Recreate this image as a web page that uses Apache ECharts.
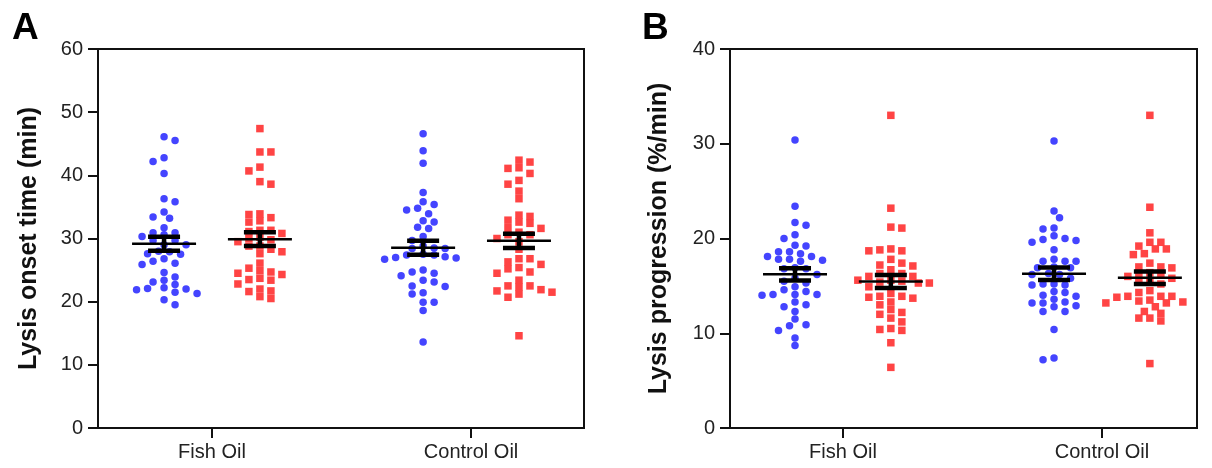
<!DOCTYPE html>
<html><head><meta charset="utf-8">
<script src="https://cdn.jsdelivr.net/npm/echarts@6/dist/echarts.min.js"></script>
<style>html,body{margin:0;padding:0;background:#fff}#c{width:1212px;height:468px}</style>
</head><body><div id="c"></div>
<script>
// ---- data ----
const categories = ['Fish Oil', 'Control Oil'];
const yTicksA = [0, 10, 20, 30, 40, 50, 60];
const yTicksB = [0, 10, 20, 30, 40];

// Panel A: Lysis onset time (min)
const onsetFishBlue = [46.1,45.5,42.8,42.2,40.3,36.3,35.8,34.2,33.4,33.2,31.7,30.6,30.9,30.9,30.3,29.7,29.7,29.0,29.0,27.9,28.0,27.6,27.5,26.8,26.4,26.1,25.9,24.6,23.9,23.4,23.1,22.7,21.9,22.2,22.1,22.0,21.5,21.3,20.3,19.5];
const onsetFishRed = [47.4,43.7,43.7,41.3,40.7,39.0,38.6,33.9,33.8,33.3,32.8,32.6,31.3,31.3,31.1,30.8,30.2,30.0,29.8,29.5,28.8,28.8,28.3,27.9,27.6,26.1,25.3,24.9,24.7,24.5,24.3,23.7,23.5,23.4,22.8,22.0,21.7,21.6,20.8,20.5];
const onsetCtrlBlue = [46.6,43.9,41.9,37.3,35.8,35.4,34.8,34.5,33.9,32.8,32.6,31.8,31.6,30.3,29.7,28.8,28.5,28.4,28.4,27.5,27.4,27.4,27.1,27.0,26.9,26.7,25.0,24.7,24.5,24.1,23.4,23.1,22.5,22.4,21.4,21.2,19.9,19.9,18.6,13.6];
const onsetCtrlRed = [42.4,42.1,41.2,41.1,40.3,39.2,38.6,37.5,36.3,33.7,33.5,32.9,32.6,32.4,31.7,31.6,31.0,30.6,30.6,30.0,29.5,28.3,26.8,26.8,26.3,25.9,25.4,25.2,24.7,24.5,23.4,22.5,22.5,22.3,21.9,21.7,21.5,21.2,20.7,14.6];

// Panel B: Lysis progression (%/min)
const progFishBlue = [30.4,23.4,21.7,21.4,20.4,20.0,19.3,19.2,18.6,18.6,18.4,18.1,18.1,17.8,17.8,17.7,17.6,16.9,16.8,16.8,16.2,15.8,15.5,15.3,14.9,14.6,14.4,14.1,14.1,14.1,14.0,13.3,13.0,12.8,12.3,11.5,10.9,10.8,10.3,9.5,8.7];
const progFishRed = [33.0,23.2,21.2,21.1,18.9,18.8,18.7,18.7,17.8,17.4,17.2,17.1,16.7,16.3,16.3,16.0,16.0,15.6,15.6,15.5,15.4,15.3,15.3,14.9,14.2,13.9,13.9,13.8,13.7,13.3,13.0,12.5,12.2,12.0,11.6,11.2,10.5,10.4,10.3,9.0,6.4];
const progCtrlBlue = [30.3,22.9,22.2,21.1,21.0,20.3,20.0,19.9,19.8,19.6,18.8,17.8,17.6,17.6,17.6,17.0,16.9,16.9,16.3,16.2,16.2,15.8,15.2,15.2,15.1,15.1,14.4,14.3,14.0,13.9,13.6,13.3,13.2,13.2,12.9,12.8,12.3,12.3,10.4,7.4,7.2];
const progCtrlRed = [33.0,23.3,20.6,19.6,19.6,19.2,18.9,18.9,18.4,18.3,17.4,17.0,17.0,16.9,16.4,16.2,16.2,16.0,15.8,15.6,15.4,15.2,14.5,14.3,13.9,13.9,13.9,13.8,13.5,13.4,13.3,13.2,13.2,12.8,12.3,12.1,11.6,11.6,11.3,6.8];

// ---- layout ----
const gridA = {left: 98, top: 49, width: 486, height: 379};
const gridB = {left: 730, top: 49, width: 467, height: 379};
const xRangeA = [-0.44, 1.436];
const xRangeB = [-0.436, 1.367];
const yRangeA = [0, 60];
const yRangeB = [0, 40];
const shift = 0.185;
const BLUE = '#3a3aff', RED = '#ff3a3a';
const FONT = 'Liberation Sans, Arial, sans-serif';

function swarm(vals, center, pxX, pxY) {
  const sx = 11, sy = 6.8, h = sx / 2;
  const sorted = vals.slice().sort((a, b) => b - a);
  const placed = []; let flip = 1; const out = [];
  for (const v of sorted) {
    const py = v * pxY; let chosen = null;
    for (let k = 0; k < 30 && chosen === null; k++) {
      const cands = k === 0 ? [0] : [flip * k * h, -flip * k * h];
      for (const c of cands) {
        if (placed.every(p => ((p.x - c) / sx) ** 2 + ((p.y - py) / sy) ** 2 >= 1)) { chosen = c; break; }
      }
    }
    if (chosen !== 0) flip = -flip;
    placed.push({x: chosen, y: py});
    out.push([center + chosen / pxX, v]);
  }
  return out;
}
function stats(vals, x) {
  const n = vals.length, m = vals.reduce((a, b) => a + b, 0) / n;
  const sd = Math.sqrt(vals.reduce((a, b) => a + (b - m) ** 2, 0) / (n - 1));
  return [x, m, sd / Math.sqrt(n)];
}

const pxXA = gridA.width / (xRangeA[1] - xRangeA[0]), pxYA = gridA.height / (yRangeA[1] - yRangeA[0]);
const pxXB = gridB.width / (xRangeB[1] - xRangeB[0]), pxYB = gridB.height / (yRangeB[1] - yRangeB[0]);

function errRender(params, api) {
  const x = api.value(0), m = api.value(1), s = api.value(2);
  const pm = api.coord([x, m]), pt = api.coord([x, m + s]), pb = api.coord([x, m - s]);
  const st = w => ({stroke: '#000', lineWidth: w});
  return {type: 'group', children: [
    {type: 'line', shape: {x1: pm[0] - 32, y1: pm[1], x2: pm[0] + 32, y2: pm[1]}, style: st(2.5)},
    {type: 'line', shape: {x1: pt[0], y1: pt[1], x2: pb[0], y2: pb[1]}, style: st(4.5)},
    {type: 'line', shape: {x1: pt[0] - 16, y1: pt[1], x2: pt[0] + 16, y2: pt[1]}, style: st(4.5)},
    {type: 'line', shape: {x1: pb[0] - 16, y1: pb[1], x2: pb[0] + 16, y2: pb[1]}, style: st(4.5)}
  ]};
}

function xAxisFor(idx, range) {
  return {
    type: 'value', gridIndex: idx, min: range[0], max: range[1],
    splitLine: {show: false},
    axisLine: {show: true, onZero: false, lineStyle: {color: '#111', width: 2}},
    axisTick: {show: true, customValues: [0, 1], length: 10, lineStyle: {color: '#111', width: 2}},
    axisLabel: {show: true, customValues: [0, 1], margin: 14, fontSize: 20, color: '#222', fontFamily: FONT,
      formatter: v => categories[Math.round(v)]}
  };
}
function yAxisFor(idx, range, name, gap) {
  return {
    type: 'value', gridIndex: idx, min: range[0], max: range[1], interval: 10,
    splitLine: {show: false},
    axisLine: {show: true, onZero: false, lineStyle: {color: '#111', width: 2}},
    axisTick: {show: true, length: 10, lineStyle: {color: '#111', width: 2}},
    axisLabel: {margin: 15, fontSize: 20, color: '#222', fontFamily: FONT},
    name: name, nameLocation: 'middle', nameGap: gap,
    nameTextStyle: {fontSize: 25, fontWeight: 'bold', color: '#111', fontFamily: FONT}
  };
}

const pointStyle = c => ({color: c, opacity: 0.95});

const chart = echarts.init(document.getElementById('c'), null, {renderer: 'canvas'});
chart.setOption({
  animation: false,
  backgroundColor: '#fff',
  graphic: [
    {type: 'text', left: 12, top: 10, style: {text: 'A', fontSize: 37, fontWeight: 'bold', fill: '#000', fontFamily: FONT}},
    {type: 'text', left: 642, top: 10, style: {text: 'B', fontSize: 37, fontWeight: 'bold', fill: '#000', fontFamily: FONT}}
  ],
  grid: [
    Object.assign({show: true, borderColor: '#111', borderWidth: 2, containLabel: false}, gridA),
    Object.assign({show: true, borderColor: '#111', borderWidth: 2, containLabel: false}, gridB)
  ],
  xAxis: [xAxisFor(0, xRangeA), xAxisFor(1, xRangeB)],
  yAxis: [yAxisFor(0, yRangeA, 'Lysis onset time (min)', 56), yAxisFor(1, yRangeB, 'Lysis progression (%/min)', 58)],
  series: [
    {type: 'scatter', xAxisIndex: 0, yAxisIndex: 0, symbol: 'circle', symbolSize: 7.5, itemStyle: pointStyle(BLUE),
      data: swarm(onsetFishBlue, 0 - shift, pxXA, pxYA).concat(swarm(onsetCtrlBlue, 1 - shift, pxXA, pxYA))},
    {type: 'scatter', xAxisIndex: 0, yAxisIndex: 0, symbol: 'rect', symbolSize: 7.5, itemStyle: pointStyle(RED),
      data: swarm(onsetFishRed, 0 + shift, pxXA, pxYA).concat(swarm(onsetCtrlRed, 1 + shift, pxXA, pxYA))},
    {type: 'scatter', xAxisIndex: 1, yAxisIndex: 1, symbol: 'circle', symbolSize: 7.5, itemStyle: pointStyle(BLUE),
      data: swarm(progFishBlue, 0 - shift, pxXB, pxYB).concat(swarm(progCtrlBlue, 1 - shift, pxXB, pxYB))},
    {type: 'scatter', xAxisIndex: 1, yAxisIndex: 1, symbol: 'rect', symbolSize: 7.5, itemStyle: pointStyle(RED),
      data: swarm(progFishRed, 0 + shift, pxXB, pxYB).concat(swarm(progCtrlRed, 1 + shift, pxXB, pxYB))},
    {type: 'custom', xAxisIndex: 0, yAxisIndex: 0, renderItem: errRender, z: 5, encode: {x: 0, y: 1},
      data: [stats(onsetFishBlue, -shift), stats(onsetFishRed, shift), stats(onsetCtrlBlue, 1 - shift), stats(onsetCtrlRed, 1 + shift)]},
    {type: 'custom', xAxisIndex: 1, yAxisIndex: 1, renderItem: errRender, z: 5, encode: {x: 0, y: 1},
      data: [stats(progFishBlue, -shift), stats(progFishRed, shift), stats(progCtrlBlue, 1 - shift), stats(progCtrlRed, 1 + shift)]}
  ]
});
</script></body></html>
